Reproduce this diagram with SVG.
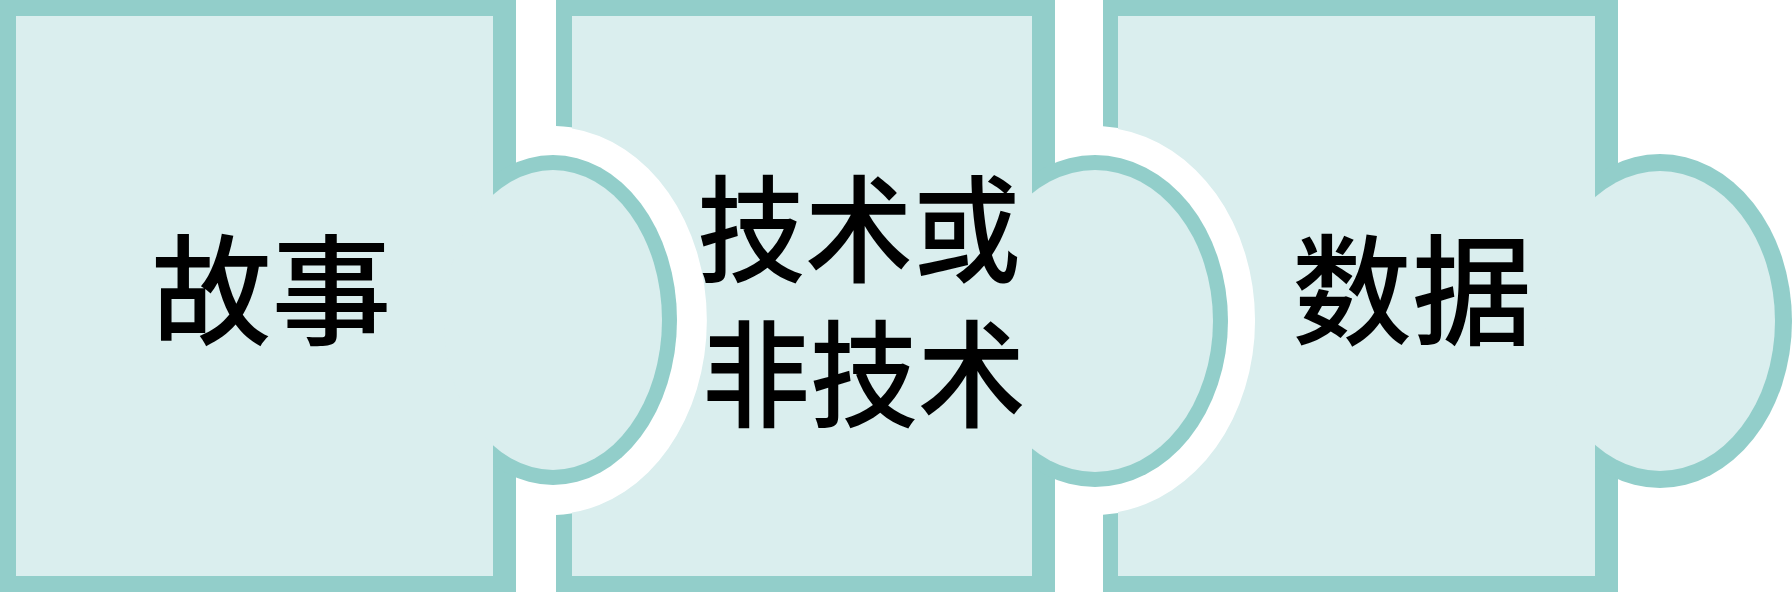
<svg xmlns="http://www.w3.org/2000/svg" width="1792" height="592" viewBox="0 0 1792 592">
<style>
.edge{fill:#92CECA}
.body{fill:#DAEEEE}
.lbl{font-family:"Noto Sans CJK SC","Noto Sans CJK TC",sans-serif;font-weight:500;fill:#000;text-anchor:middle;dominant-baseline:central}
</style>
<rect x="0" y="0" width="1792" height="592" fill="#FFFFFF"/>
<g id="connectors"></g>
<g id="piece-1">
<rect class="edge" x="0" y="0" width="516" height="592"/>
<ellipse class="edge" cx="553" cy="320" rx="124" ry="165"/>
<rect class="body" x="16" y="16" width="477" height="560"/>
<ellipse class="body" cx="553" cy="320" rx="109" ry="150"/>
<text class="lbl" font-size="120" x="271.5" y="284">故事</text>
</g>
<g id="piece-2">
<path class="edge" d="M556,0 H1055 V592 H556 V514.96 A155 194.5 0 0 0 556 126.04 Z"/>
<ellipse class="edge" cx="1095" cy="321" rx="133" ry="166"/>
<path class="body" d="M572,16 H1032 V576 H572 V512.5 A154 193.5 0 0 0 572 128.5 Z"/>
<ellipse class="body" cx="1095" cy="321" rx="118" ry="151"/>
<text class="lbl" font-size="116" transform="translate(862 0) scale(0.93 1)"><tspan x="-3.2" y="222">技术或</tspan><tspan x="2" y="367">非技术</tspan></text>
</g>
<g id="piece-3">
<path class="edge" d="M1103,0 H1618 V592 H1103 V514.76 A161 194.5 0 0 0 1103 126.24 Z"/>
<ellipse class="edge" cx="1660" cy="321" rx="132" ry="167"/>
<path class="body" d="M1118,16 H1595 V576 H1118 V512 A160 193.5 0 0 0 1118 129 Z"/>
<ellipse class="body" cx="1660" cy="321" rx="115" ry="150"/>
<text class="lbl" font-size="120" x="1412" y="284">数据</text>
</g>
</svg>
